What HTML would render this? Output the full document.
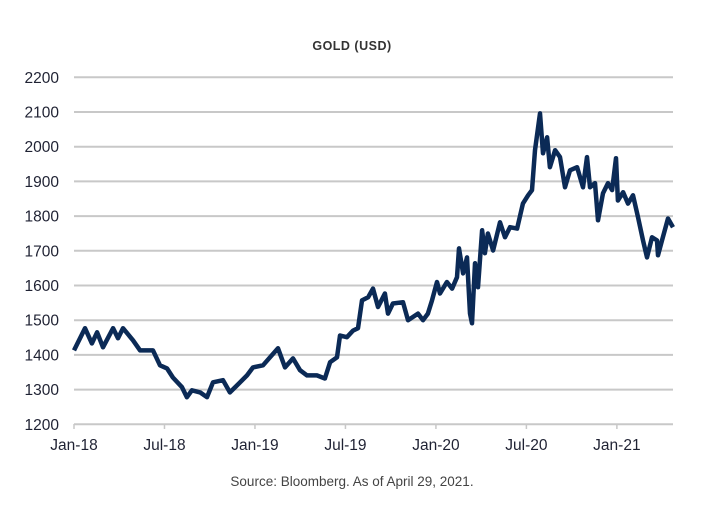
<!DOCTYPE html>
<html><head><meta charset="utf-8"><style>
body{margin:0;background:#fff;width:706px;height:505px;overflow:hidden;font-family:"Liberation Sans",sans-serif}
</style></head><body>
<svg id="chart" width="706" height="505" xmlns="http://www.w3.org/2000/svg">
<text x="352" y="50" text-anchor="middle" font-size="12.5" font-weight="bold" fill="#333" letter-spacing="0.5">GOLD (USD)</text>
<g id="grid"></g><g id="xaxis"></g><g id="series"></g>
<text x="352" y="486" text-anchor="middle" font-size="13.5" fill="#444">Source: Bloomberg. As of April 29, 2021.</text>
</svg>
<script>
const yTicks=[1200,1300,1400,1500,1600,1700,1800,1900,2000,2100,2200];
const xTickLabels=["Jan-18","Jul-18","Jan-19","Jul-19","Jan-20","Jul-20","Jan-21"];
const xTickMonths=[0,6,12,18,24,30,36];
const months=[0,0.73,1.19,1.53,1.92,2.59,2.92,3.25,3.91,4.38,5.24,5.70,6.17,6.56,7.16,7.49,7.82,8.36,8.82,9.22,9.88,10.34,10.81,11.47,11.87,12.53,13.0,13.53,13.99,14.52,14.99,15.45,16.11,16.64,16.98,17.44,17.64,18.10,18.50,18.83,19.1,19.5,19.83,20.16,20.62,20.82,21.15,21.82,22.15,22.81,23.14,23.47,23.74,24.07,24.27,24.73,25.07,25.40,25.53,25.80,26.06,26.26,26.39,26.59,26.79,27.06,27.25,27.45,27.79,28.25,28.58,28.91,29.38,29.77,30.11,30.37,30.57,30.90,31.1,31.37,31.56,31.90,32.23,32.56,32.89,33.36,33.75,34.02,34.22,34.55,34.75,35.08,35.41,35.68,35.94,36.07,36.41,36.74,37.07,37.40,37.73,38.0,38.33,38.66,38.73,38.99,39.39,39.72];
const prices=[1413,1477,1433,1465,1422,1477,1448,1477,1442,1413,1413,1370,1361,1335,1307,1278,1298,1292,1278,1321,1327,1292,1312,1341,1364,1370,1393,1419,1364,1390,1356,1341,1341,1332,1379,1393,1456,1451,1470,1477,1557,1566,1591,1538,1577,1519,1548,1552,1500,1519,1500,1519,1557,1610,1577,1610,1591,1624,1707,1635,1681,1519,1491,1664,1595,1759,1693,1750,1701,1782,1739,1768,1764,1836,1860,1875,1990,2096,1981,2027,1941,1990,1970,1883,1932,1941,1883,1970,1883,1895,1788,1866,1895,1875,1967,1845,1869,1836,1860,1797,1730,1681,1739,1730,1687,1730,1793,1768];
const X0=74,X1=673,PX=15.08;
const xs=m=>X0+m*PX;
const ys=v=>424.3-(v-1200)*0.347;
const NS="http://www.w3.org/2000/svg";
const grid=document.getElementById('grid');
yTicks.forEach(t=>{
 const l=document.createElementNS(NS,'line');
 
 
 l.setAttribute('x1',X0);l.setAttribute('x2',X1);l.setAttribute('y1',ys(t));l.setAttribute('y2',ys(t));
 l.setAttribute('stroke','#c8c8c8');l.setAttribute('stroke-width','2');grid.appendChild(l);
 const tx=document.createElementNS(NS,'text');
 
 
 tx.setAttribute('x',59);tx.setAttribute('y',ys(t)+5.5);tx.setAttribute('text-anchor','end');
 tx.setAttribute('font-size','15.5');tx.setAttribute('fill','#1f2233');tx.textContent=t;grid.appendChild(tx);
});
const xa=document.getElementById('xaxis');
xTickMonths.forEach((m,i)=>{
 const l=document.createElementNS(NS,'line');
 
 
 l.setAttribute('x1',xs(m));l.setAttribute('x2',xs(m));l.setAttribute('y1',424);l.setAttribute('y2',429);
 l.setAttribute('stroke','#c8c8c8');l.setAttribute('stroke-width','1.5');xa.appendChild(l);
 const tx=document.createElementNS(NS,'text');
 
 
 tx.setAttribute('x',xs(m));tx.setAttribute('y',450);tx.setAttribute('text-anchor','middle');
 tx.setAttribute('font-size','15.5');tx.setAttribute('fill','#1f2233');tx.textContent=xTickLabels[i];xa.appendChild(tx);
});
const p=document.createElementNS(NS,'path');


p.setAttribute('d',months.map((m,i)=>(i?'L':'M')+xs(m).toFixed(1)+' '+ys(prices[i]).toFixed(1)).join(''));
p.setAttribute('fill','none');p.setAttribute('stroke','#0b2a56');p.setAttribute('stroke-width','4.5');p.setAttribute('stroke-linejoin','round');
document.getElementById('series').appendChild(p);
</script>
</body></html>
